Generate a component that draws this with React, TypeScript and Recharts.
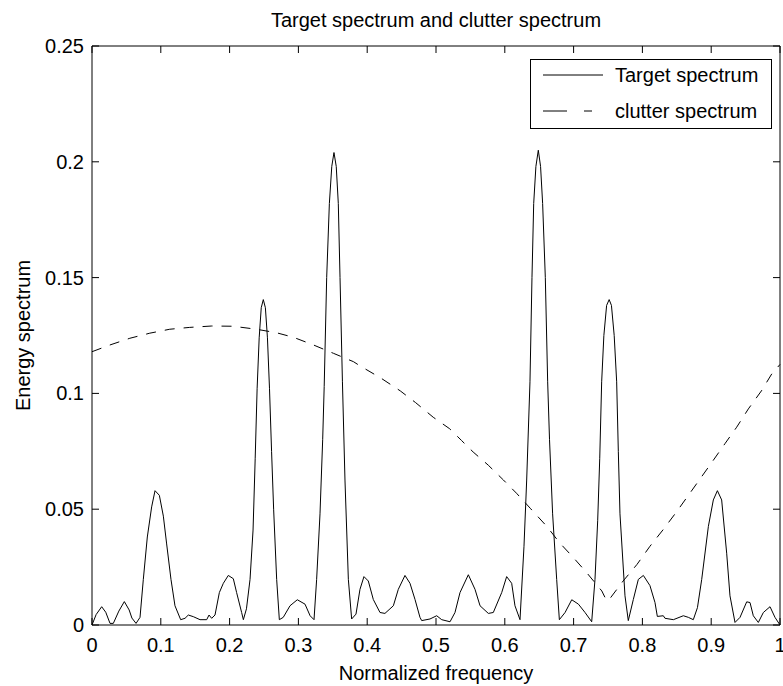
import React from "react";
import { LineChart, Line, XAxis, YAxis, Legend, Label } from "recharts";

const FONT = '"Liberation Sans", Arial, Helvetica, sans-serif';

// target spectrum
const targetFreq = [
  0, 0.006, 0.0141, 0.02, 0.0262, 0.031, 0.039, 0.047, 0.054, 0.058, 0.064, 0.0698,
  0.0746, 0.0804, 0.0867, 0.0916, 0.0979, 0.1037, 0.1085, 0.1148, 0.1206, 0.1289,
  0.1352, 0.14, 0.1473, 0.157, 0.1667, 0.1701, 0.1739, 0.1788, 0.1851, 0.1909,
  0.1981, 0.2054, 0.2102, 0.2175, 0.22, 0.2245, 0.2297, 0.2341, 0.2372, 0.24,
  0.243, 0.246, 0.249, 0.252, 0.255, 0.258, 0.261, 0.264, 0.2684, 0.2723,
  0.278, 0.2878, 0.2984, 0.3096, 0.317, 0.3227,
  0.3265, 0.3314, 0.3353, 0.3375, 0.3411, 0.345, 0.3485, 0.3517, 0.355, 0.358,
  0.3605, 0.364, 0.3677, 0.3726, 0.3774,
  0.3837, 0.3895, 0.3953, 0.4016, 0.4089, 0.4186, 0.4258, 0.438, 0.4452, 0.4549,
  0.4622, 0.4695, 0.4767, 0.4792, 0.4913, 0.501, 0.5083, 0.5204, 0.5276, 0.5349,
  0.547, 0.5567, 0.564, 0.5761, 0.5833, 0.5955, 0.6027, 0.61, 0.6148, 0.6221,
  0.6279, 0.6318, 0.6366, 0.6395, 0.642, 0.6452, 0.6487, 0.652, 0.655, 0.6589,
  0.6623, 0.665, 0.6695, 0.6754, 0.6793,
  0.6876, 0.6973, 0.707, 0.7166, 0.7263,
  0.7311, 0.735, 0.738, 0.7408, 0.744, 0.748, 0.7517, 0.755, 0.759, 0.7626,
  0.765, 0.7674, 0.7747, 0.7795,
  0.7868, 0.7941, 0.8014, 0.811, 0.8183, 0.8217, 0.8304, 0.8328, 0.845, 0.8595,
  0.8668, 0.874, 0.88, 0.8862, 0.8959, 0.9031, 0.909, 0.9152, 0.9225, 0.9273,
  0.9346, 0.9419, 0.9516, 0.9564, 0.9612, 0.9685, 0.9758, 0.9855, 0.9927, 1,
];
const targetEnergy = [
  0, 0.0045, 0.0079, 0.0055, 0.0007, 0.0007, 0.006, 0.0101, 0.0065, 0.003, 0.0007, 0.0033,
  0.0197, 0.038, 0.051, 0.058, 0.056, 0.047, 0.035, 0.0197, 0.0083, 0.0023,
  0.0029, 0.0043, 0.0036, 0.0023, 0.0023, 0.0043, 0.0029, 0.0043, 0.014, 0.018,
  0.0214, 0.02, 0.014, 0.0054, 0.0023, 0.007, 0.0197, 0.041, 0.072, 0.102,
  0.124, 0.137, 0.1405, 0.137, 0.124, 0.102, 0.075, 0.05, 0.0197, 0.0023,
  0.0033, 0.0083, 0.0109, 0.009, 0.004, 0.0023,
  0.0197, 0.048, 0.08, 0.103, 0.15, 0.182, 0.198, 0.204, 0.198, 0.182,
  0.15, 0.105, 0.0626, 0.0197, 0.0026,
  0.0047, 0.0154, 0.0209, 0.019, 0.011, 0.0054, 0.005, 0.0083, 0.0154, 0.0214,
  0.018, 0.011, 0.0033, 0.0019, 0.0026, 0.004, 0.0023, 0.0014, 0.0054, 0.014,
  0.0217, 0.0154, 0.0083, 0.005, 0.0054, 0.014, 0.0209, 0.018, 0.0083, 0.0023,
  0.034, 0.0626, 0.105, 0.15, 0.182, 0.198, 0.205, 0.198, 0.182, 0.15,
  0.105, 0.08, 0.048, 0.0197, 0.0023,
  0.0054, 0.0109, 0.009, 0.0054, 0.0014,
  0.0197, 0.045, 0.072, 0.105, 0.125, 0.138, 0.1405, 0.138, 0.125, 0.105,
  0.075, 0.048, 0.0126, 0.0019,
  0.011, 0.0197, 0.0214, 0.017, 0.0097, 0.0037, 0.004, 0.0029, 0.0023, 0.004,
  0.0033, 0.0023, 0.0075, 0.0197, 0.0426, 0.054, 0.058, 0.054, 0.031, 0.0126,
  0.0011, 0.0033, 0.01, 0.0097, 0.004, 0.0011, 0.0054, 0.0079, 0.0033, 0,
];

// clutter spectrum
const clutterFreq = [
  0, 0.026, 0.055, 0.084, 0.113, 0.142, 0.174, 0.205, 0.239, 0.268, 0.293, 0.322,
  0.351, 0.38, 0.39, 0.42, 0.448, 0.47, 0.496, 0.52, 0.537, 0.554, 0.576, 0.598,
  0.617, 0.637, 0.661, 0.68, 0.7, 0.719, 0.741, 0.748, 0.752, 0.772, 0.792, 0.811,
  0.83, 0.85, 0.869, 0.886, 0.903, 0.92, 0.937, 0.954, 0.973, 0.988, 1,
];
const clutterEnergy = [
  0.118, 0.1209, 0.1238, 0.126, 0.1277, 0.1285, 0.1291, 0.129, 0.1277, 0.1262, 0.1242, 0.1209,
  0.1173, 0.1137, 0.1118, 0.1066, 0.1011, 0.0961, 0.0897, 0.0847, 0.0797, 0.0747, 0.069, 0.0626,
  0.0569, 0.0504, 0.0426, 0.0354, 0.029, 0.0226, 0.0147, 0.0105, 0.0111, 0.019, 0.0261, 0.034,
  0.0411, 0.049, 0.0569, 0.064, 0.0711, 0.0783, 0.0854, 0.0933, 0.1011, 0.1084, 0.1125,
];

const xTicks = [0, 0.1, 0.2, 0.3, 0.4, 0.5, 0.6, 0.7, 0.8, 0.9, 1];
const yTicks = [0, 0.05, 0.1, 0.15, 0.2, 0.25];

const targetData = targetFreq.map((f, i) => ({ freq: f, energy: targetEnergy[i] }));
const clutterData = clutterFreq.map((f, i) => ({ freq: f, energy: clutterEnergy[i] }));

const TICK = 7;
const txt = { fontSize: 20, fontFamily: FONT, fill: "#000" };

const BottomTick = ({ x, y, payload }: any) => (
  <g>
    <line x1={x} y1={y} x2={x} y2={y - TICK} stroke="#000" />
    <text x={x} y={y + 27} textAnchor="middle" {...txt}>{String(payload.value)}</text>
  </g>
);
const TopTick = ({ x, y }: any) => <line x1={x} y1={y} x2={x} y2={y + TICK} stroke="#000" />;
const LeftTick = ({ x, y, payload }: any) => (
  <g>
    <line x1={x} y1={y} x2={x + TICK} y2={y} stroke="#000" />
    <text x={x - 8} y={y + 7} textAnchor="end" {...txt}>{String(payload.value)}</text>
  </g>
);
const RightTick = ({ x, y }: any) => <line x1={x} y1={y} x2={x - TICK} y2={y} stroke="#000" />;

const renderLegend = ({ payload }: any) => (
  <svg width={242} height={70} style={{ display: "block" }}>
    <rect x={0.5} y={0.5} width={241} height={69} fill="#fff" stroke="#000" />
    {(payload || []).map((entry: any, i: number) => {
      const cy = 16 + i * 36;
      const dashed = entry.value === "clutter spectrum";
      return (
        <g key={entry.value}>
          <line x1={13} x2={73} y1={cy} y2={cy} stroke="#000"
            strokeDasharray={dashed ? "24 17 8 100" : undefined} />
          <text x={85} y={cy + 7} {...txt}>{entry.value}</text>
        </g>
      );
    })}
  </svg>
);

export default function App() {
  return (
    <div style={{ position: "absolute", left: 0, top: 0, background: "#fff" }}>
      <LineChart width={783} height={686} margin={{ top: 45, right: 2, bottom: 21, left: 0 }}>
        <XAxis dataKey="freq" type="number" domain={[0, 1]} ticks={xTicks} interval={0}
          tickSize={0} tickMargin={0} height={40} tick={<BottomTick />}
          axisLine={{ stroke: "#000" }}>
          <Label content={({ viewBox }: any) => (
            <text x={viewBox.x + viewBox.width / 2} y={680} textAnchor="middle" {...txt}>
              Normalized frequency
            </text>
          )} />
        </XAxis>
        <XAxis xAxisId="top" dataKey="freq" orientation="top" type="number" domain={[0, 1]}
          ticks={xTicks} interval={0} tickSize={0} tickMargin={0} height={1} tick={<TopTick />}
          axisLine={{ stroke: "#000" }}>
          <Label content={({ viewBox }: any) => (
            <text x={viewBox.x + viewBox.width / 2} y={27} textAnchor="middle" {...txt}>
              Target spectrum and clutter spectrum
            </text>
          )} />
        </XAxis>
        <YAxis type="number" domain={[0, 0.25]} ticks={yTicks} interval={0} width={92}
          tickSize={0} tickMargin={0} tick={<LeftTick />} axisLine={{ stroke: "#000" }}>
          <Label content={({ viewBox }: any) => {
            const cx = 23;
            const cy = viewBox.y + viewBox.height / 2;
            return (
              <text x={cx} y={cy} transform={`rotate(-90, ${cx}, ${cy})`} textAnchor="middle"
                dominantBaseline="central" {...txt}>
                Energy spectrum
              </text>
            );
          }} />
        </YAxis>
        <YAxis yAxisId="right" orientation="right" type="number" domain={[0, 0.25]} ticks={yTicks}
          interval={0} width={1} tickSize={0} tickMargin={0} tick={<RightTick />}
          axisLine={{ stroke: "#000" }} />
        <Line data={targetData} dataKey="energy" name="Target spectrum" type="linear"
          stroke="#000" strokeWidth={1} dot={false} activeDot={false} isAnimationActive={false} />
        <Line data={clutterData} dataKey="energy" name="clutter spectrum" type="linear"
          xAxisId="top" yAxisId="right"
          stroke="#000" strokeWidth={1} strokeDasharray="10 9" dot={false} activeDot={false}
          isAnimationActive={false} />
        <Legend layout="vertical" align="center" verticalAlign="middle" content={renderLegend}
          wrapperStyle={{ left: 530, top: 59, width: 242, height: 70 }} />
      </LineChart>
    </div>
  );
}
